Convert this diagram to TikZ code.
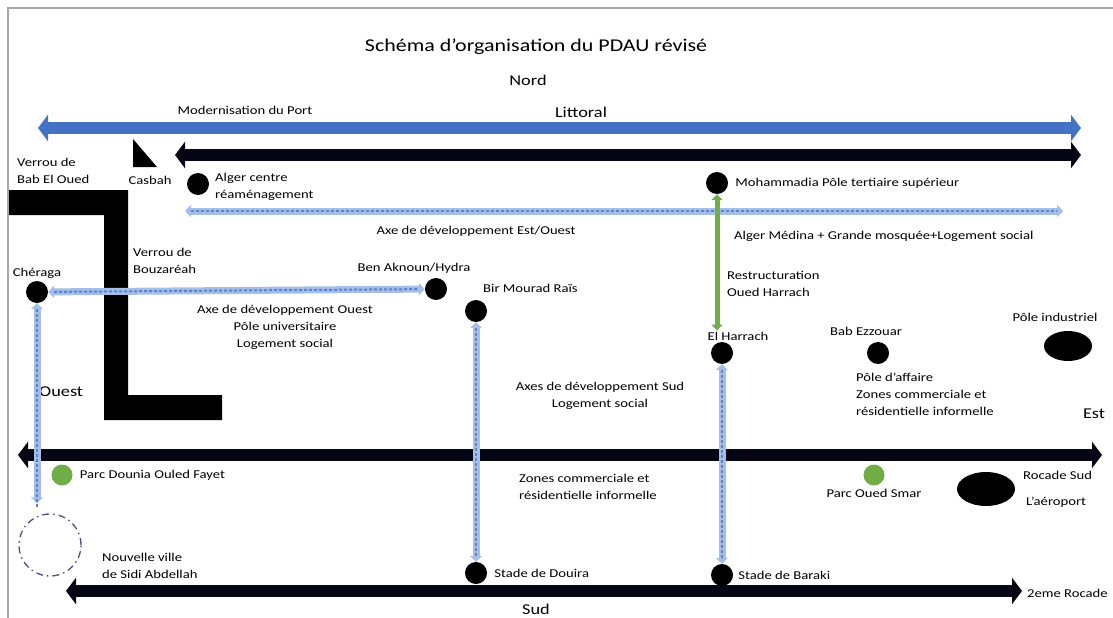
\documentclass[tikz,border=0pt]{standalone}
\usepackage{fontspec}
\setmainfont{Carlito}[FakeStretch=1.22]
\usepackage{tikz}
\usetikzlibrary{arrows.meta,positioning,shapes.geometric}
\definecolor{bleuroute}{RGB}{68,114,196}
\definecolor{bleuaxe}{RGB}{165,190,232}
\definecolor{bleutiret}{RGB}{90,130,205}
\definecolor{vertaxe}{RGB}{112,173,71}
\definecolor{noirroute}{RGB}{5,5,20}
\tikzset{
  cadre/.style={draw=gray!70, line width=1.2pt},
  titre/.style={font=\fontsize{18}{21}\selectfont, inner sep=1pt},
  cardinal/.style={font=\fontsize{15}{18}\selectfont, inner sep=1pt},
  txt/.style={font=\fontsize{12}{17}\selectfont, inner sep=1pt, align=left},
  pole/.style={circle, fill=black, minimum size=22pt, inner sep=0pt},
  parc/.style={circle, fill=vertaxe, minimum size=21pt, inner sep=0pt},
  zone/.style={ellipse, fill=black, minimum width=48pt, minimum height=30pt, inner sep=0pt},
  ville/.style={circle, draw=blue!30!black!70, line width=1.3pt,
    dash pattern=on 7pt off 4pt on 1.5pt off 4pt, minimum size=62pt, inner sep=0pt},
  route/.style={draw=noirroute, line width=12pt,
    {Triangle[length=10pt,width=26pt]}-{Triangle[length=10pt,width=26pt]}},
  littoral/.style={route, draw=bleuroute},
  axe/.style={draw=bleuaxe, line width=7pt,
    {Triangle[length=6pt,width=12pt]}-{Triangle[length=6pt,width=12pt]},
    postaction={draw=bleutiret, arrows=-, line width=2pt, dash pattern=on 3pt off 2pt,
      shorten <=6pt, shorten >=6pt}},
  axevert/.style={draw=vertaxe, line width=5pt,
    {Triangle[length=6pt,width=11pt]}-{Triangle[length=6pt,width=11pt]}}
}
\begin{document}
\begin{tikzpicture}[x=1pt, y=-1pt, node distance=4pt]
\useasboundingbox (0,0) rectangle (1113,618);
\draw[cadre] (8,618) -- (8,8) -- (1113,8);

% titre et orientation
\node[titre] (t) at (536,47) {Schéma d'organisation du PDAU révisé};
\node[cardinal] (nord) at (528,80) {Nord};
\node[cardinal] (litt) at (581,112) {Littoral};
\node[txt] (port) at (245,110) {Modernisation du Port};
\node[cardinal, anchor=west] (ouest) at (38,392) {Ouest};
\node[cardinal] (est) at (1094,414) {Est};
\node[cardinal] (sud) at (536,609) {Sud};

% grandes routes
\coordinate (l1) at (38,128); \coordinate (l2) at (1081,128);
\coordinate (c1) at (175,155); \coordinate (c2) at (1081,155);
\coordinate (rs1) at (18,455); \coordinate (rs2) at (1102,455);
\coordinate (r21) at (66,591); \coordinate (r22) at (1022,591);
\draw[littoral] (l1) -- (l2);
\draw[route] (c1) -- (c2);
\draw[route] (rs1) -- (rs2);
\draw[route] (r21) -- (r22);
\node[txt, anchor=west] (rsud) at (1022,475) {Rocade Sud};
\node[txt, anchor=west] (r2l) at (1026,593) {2eme Rocade};

% verrous
\fill[black] (133,139) -- (133,167) -- (157,167) -- cycle;
\fill[black] (9,190) rectangle (128,215) (104,190) rectangle (128,420) (104,395) rectangle (222,420);
\node[txt, anchor=west] (bab) at (16,171) {Verrou de\\Bab El Oued};
\node[txt] (casbah) at (150,180) {Casbah};
\node[txt, anchor=west] (bouz) at (132,261) {Verrou de\\Bouzaréah};

% axe est/ouest
\node[pole] (alger) at (198,184) {};
\node[txt, anchor=west] (algerl) at (214,187) {Alger centre\\réaménagement};
\node[pole] (moha) at (717,183) {};
\node[txt, right=6pt of moha] (mohal) {Mohammadia Pôle tertiaire supérieur};
\coordinate (eo1) at (185,211); \coordinate (eo2) at (1063,211);
\draw[axe] (eo1) -- (eo2);
\node[txt] (eol) at (476,231) {Axe de développement Est/Ouest};
\node[txt, anchor=west] (medina) at (733,236) {Alger Médina + Grande mosquée+Logement social};

% ouest
\node[pole] (cheraga) at (37,292) {};
\node[txt, above=1pt of cheraga] (cheragal) {Chéraga};
\node[pole] (hydra) at (436,289) {};
\node[txt] (hydral) at (414,268) {Ben Aknoun/Hydra};
\draw[axe] (cheraga) -- (hydra);
\node[txt, align=center] (ouestl) at (285,327) {Axe de développement Ouest\\Pôle universitaire\\Logement social};
\node[ville] (sidi) at (50,545) {};
\node[txt, anchor=west] (sidil) at (101,566) {Nouvelle ville\\de Sidi Abdellah};
\draw[axe, shorten >=10pt] (cheraga) -- (cheraga |- sidi.north);
\node[parc] (dounia) at (62,475) {};
\node[txt, right=6pt of dounia] (dounial) {Parc Dounia Ouled Fayet};

% sud
\node[pole] (bmr) at (476,311) {};
\node[txt, anchor=west] (bmrl) at (482,288) {Bir Mourad Raïs};
\node[pole] (douira) at (476,573) {};
\node[txt, right=6pt of douira] (douiral) {Stade de Douira};
\draw[axe] (bmr) -- (douira);
\node[txt, align=center] (sudl) at (600,396) {Axes de développement Sud\\Logement social};
\node[txt, anchor=west] (zone1) at (518,487) {Zones commerciale et\\résidentielle informelle};

% est
\node[pole] (harrach) at (722,353) {};
\node[txt] (harrachl) at (738,336) {El Harrach};
\draw[axevert] (moha) -- (moha |- harrachl.north);
\node[txt, anchor=west] (restl) at (726,284) {Restructuration\\Oued Harrach};
\node[pole] (baraki) at (722,575) {};
\node[txt, right=4pt of baraki] (barakil) {Stade de Baraki};
\draw[axe] (harrach) -- (baraki);
\node[pole] (babez) at (878,353) {};
\node[txt] (babezl) at (866,331) {Bab Ezzouar};
\node[txt, anchor=west] (affl) at (855,394) {Pôle d'affaire\\Zones commerciale et\\résidentielle informelle};
\node[zone] (indus) at (1068,346) {};
\node[txt] (industl) at (1055,317) {Pôle industriel};
\node[parc] (smar) at (874,475) {};
\node[txt, below=2pt of smar] (smarl) {Parc Oued Smar};
\node[zone, minimum width=58pt, minimum height=34pt] (aero) at (986,489) {};
\node[txt] (aerol) at (1056,502) {L'aéroport};
\end{tikzpicture}
\end{document}
